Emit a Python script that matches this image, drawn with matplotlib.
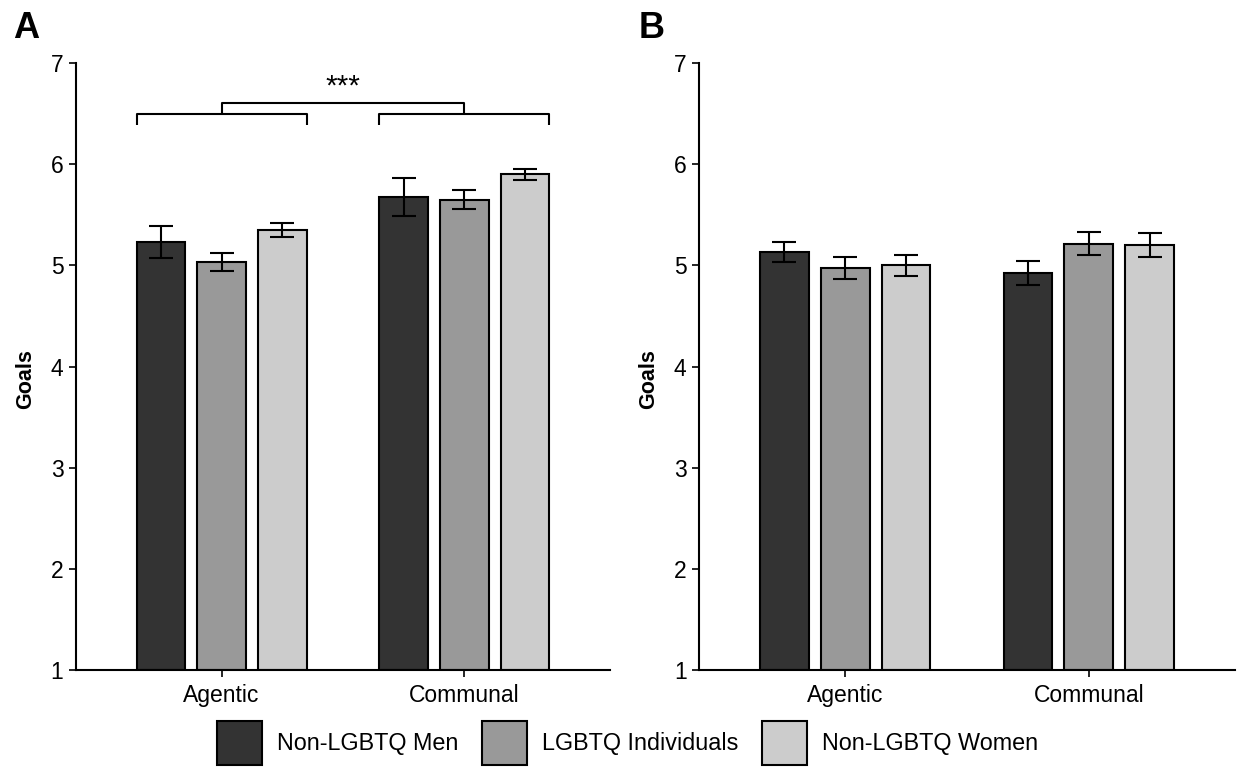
import matplotlib
matplotlib.use("Agg")
import matplotlib.pyplot as plt
import numpy as np
from matplotlib.patches import Patch

plt.rcParams['font.family'] = ['Liberation Sans', 'DejaVu Sans']

categories = ['Agentic', 'Communal']
groups = ['Non-LGBTQ Men', 'LGBTQ Individuals', 'Non-LGBTQ Women']
colors = ['#333333', '#999999', '#CCCCCC']

# Panel A
a_men = [5.23, 5.675]
a_lgbtq = [5.03, 5.65]
a_women = [5.35, 5.90]
a_men_se = [0.16, 0.19]
a_lgbtq_se = [0.09, 0.09]
a_women_se = [0.07, 0.055]

# Panel B
b_men = [5.135, 4.925]
b_lgbtq = [4.97, 5.215]
b_women = [5.00, 5.20]
b_men_se = [0.10, 0.115]
b_lgbtq_se = [0.11, 0.115]
b_women_se = [0.105, 0.12]

yticks = [1, 2, 3, 4, 5, 6, 7]

W, H = 1238, 768
fig = plt.figure(figsize=(W / 100, H / 100), dpi=100)

ax_a = fig.add_axes([76 / W, (H - 670) / H, 534 / W, 607 / H])
ax_b = fig.add_axes([699 / W, (H - 670) / H, 536 / W, 607 / H])

offsets = [-0.25, 0.0, 0.25]
bar_w = 0.2
lw = 1.5
ybase = 1


def draw(ax, means, ses):
    x = np.arange(1, len(categories) + 1)
    for i, (m, s) in enumerate(zip(means, ses)):
        m = np.asarray(m, dtype=float)
        ax.bar(x + offsets[i], m - ybase, bottom=ybase, width=bar_w, color=colors[i],
               edgecolor='black', linewidth=lw, zorder=2)
        ax.errorbar(x + offsets[i], m, yerr=s, fmt='none', ecolor='black',
                    elinewidth=lw, capsize=8.6, capthick=lw, zorder=3)
    ax.set_xlim(0.4, 2.6)
    ax.set_ylim(1, 7)
    ax.set_yticks(yticks)
    ax.set_xticks(x)
    ax.set_xticklabels(categories)
    for sp in ['top', 'right']:
        ax.spines[sp].set_visible(False)
    for sp in ['left', 'bottom']:
        ax.spines[sp].set_linewidth(1.5)
    ax.tick_params(axis='both', length=5, width=1.2, labelsize=16.5, colors='black')
    ax.tick_params(axis='y', pad=4)
    ax.tick_params(axis='x', pad=5)
    ax.set_ylabel('Goals', fontsize=15.5, fontweight='bold')
    ax.yaxis.set_label_coords(-0.075, 0.479)


draw(ax_a, [a_men, a_lgbtq, a_women], [a_men_se, a_lgbtq_se, a_women_se])
draw(ax_b, [b_men, b_lgbtq, b_women], [b_men_se, b_lgbtq_se, b_women_se])

# significance brackets on panel A
bl = dict(color='black', linewidth=1.5, clip_on=False, solid_capstyle='butt')
for c in [1, 2]:
    x0, x1 = c - 0.25 - bar_w / 2, c + 0.25 + bar_w / 2
    ax_a.plot([x0, x0, x1, x1], [6.39, 6.5, 6.5, 6.39], **bl)
ax_a.plot([1, 1, 2, 2], [6.5, 6.6, 6.6, 6.5], **bl)
ax_a.text(1.5, 6.63, '***', ha='center', va='bottom', fontsize=21.5)

fig.text(13 / W, 1 - 38 / H, 'A', fontsize=26, fontweight='bold', ha='left', va='baseline')
fig.text(639 / W, 1 - 38 / H, 'B', fontsize=26, fontweight='bold', ha='left', va='baseline')

handles = [Patch(facecolor=c, edgecolor='black', linewidth=1.5) for c in colors]
fig.legend(handles, groups, loc='center', bbox_to_anchor=(0.507, 1 - 743 / H), ncol=3,
           frameon=False, fontsize=16.8, handlelength=1.93, handleheight=2.52,
           handletextpad=0.65, columnspacing=1.0, borderpad=0)

fig.savefig('out.png', dpi=100)
